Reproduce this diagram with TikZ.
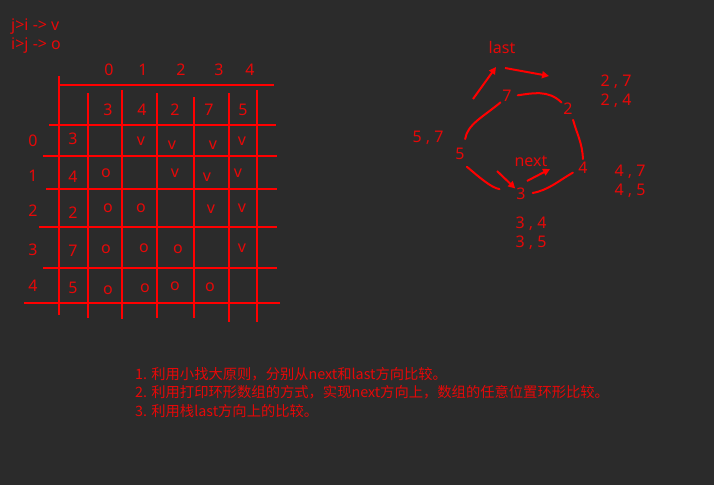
\documentclass[tikz,border=0pt]{standalone}
\usepackage{fontspec}
\setmainfont{Noto Sans}
\newfontfamily\cjk{Noto Sans CJK SC}
\usetikzlibrary{arrows.meta}
\definecolor{bgc}{RGB}{43,43,43}
\definecolor{pen}{RGB}{255,0,0}
\definecolor{ink}{RGB}{230,8,8}

\begin{document}
\begin{tikzpicture}[
		x=1pt, y=-1pt,
		lbl/.style={text=ink, font=\fontsize{16}{19}\selectfont, inner sep=1pt},
		grid/.style={pen, line width=2pt},
		curve/.style={pen, line width=2pt, line cap=round},
		arr/.style={pen, line width=2pt, -{Triangle[length=7pt, width=7pt]}},
	]
		\fill[bgc] (0,0) rectangle (714,485);
		\useasboundingbox (0,0) rectangle (714,485);
		% legend
		\node[lbl, anchor=west] (ruleA) at (10,27) {j>i -> v};
		\node[lbl, anchor=west] (ruleB) at (10,46) {i>j -> o};
		% table
		\foreach \y/\a/\b in {85/59/274, 125/49/276, 156/43/277, 189/46/277, 227/39/277, 268/43/277, 303/24/280}
			\draw[grid] (\a,\y) -- (\b,\y);
		\foreach \x/\a/\b in {59/76/315, 88/93/318, 122/90/319, 157/93/318, 194/97/318, 229/93/322, 257/90/322}
			\draw[grid] (\x,\a) -- (\x,\b);
		\foreach \x/\t [count=\i from 0] in {109/0, 143/1, 181/2, 219/3, 250/4}
			\node[lbl] (col\i) at (\x,70) {\t};
		\foreach \x/\t [count=\i from 0] in {108/3, 142/4, 175/2, 209/7, 243/5}
			\node[lbl] (top\i) at (\x,110) {\t};
		\foreach \y/\t [count=\i from 0] in {141/0, 176/1, 211/2, 250/3, 286/4}
			\node[lbl] (row\i) at (33,\y) {\t};
		\foreach \y/\t [count=\i from 0] in {139/3, 177/4, 213/2, 251/7, 288/5}
			\node[lbl] (left\i) at (73,\y) {\t};
		\foreach \x/\y/\t [count=\i] in {141/141/v, 172/145/v, 213/145/v, 242/141/v,
				106/173/o, 175/173/v, 207/177/v, 238/173/v,
				108/208/o, 141/208/o, 211/209/v, 242/208/v,
				106/249/o, 144/248/o, 178/249/o, 242/248/v,
				108/290/o, 145/288/o, 175/286/o, 210/287/o}
			\node[lbl] (cell\i) at (\x,\y) {\t};
		% ring
		\node[lbl] (n7) at (507,96) {7};
		\node[lbl] (n2) at (568,109) {2};
		\node[lbl] (n4) at (583,168) {4};
		\node[lbl] (n3) at (521,194) {3};
		\node[lbl] (n5) at (460,154) {5};
		\node[lbl] (last) at (502,47) {last};
		\node[lbl] (next) at (531,161) {next};
		\draw[curve, shorten <=5pt, shorten >=1pt] (n7.east) to[out=8, in=135] (n2.135);
		\draw[curve, shorten <=4pt, shorten >=2pt] (n2.-60) to[out=-75, in=92] (n4.north);
		\draw[curve, shorten <=8pt, shorten >=1pt] (n5.60) to[out=82, in=220] (n7.225);
		\draw[curve, shorten <=9pt, shorten >=16pt] (n5.south) to[out=-40, in=170] (n3.160);
		\draw[curve, shorten <=6pt, shorten >=5pt] (n3.east) to[out=10, in=210] (n4.200);
		\coordinate (lastA) at (473,99);
		\coordinate (lastB) at (496,67);
		\coordinate (lastC) at (505,68);
		\coordinate (lastD) at (549,76);
		\coordinate (nextA) at (497,171);
		\coordinate (nextB) at (527,181);
		\coordinate (nextC) at (550,169);
		\draw[arr] (lastA) -- (lastB);
		\draw[arr] (lastC) -- (lastD);
		\draw[arr] (nextA) -- (n3);
		\draw[arr] (nextB) -- (nextC);
		\node[lbl, align=left] (p2) at (616,91) {2 , 7\\2 , 4};
		\node[lbl] (p5) at (428,138) {5 , 7};
		\node[lbl, align=left] (p4) at (630,181) {4 , 7\\4 , 5};
		\node[lbl, align=left] (p3) at (531,233) {3 , 4\\3 , 5};
		% notes
		\node[lbl, anchor=north west, align=left, font=\cjk\fontsize{14.3}{18.5}\selectfont] (notes) at (134,366)
			{1. 利用小找大原则，分别从next和last方向比较。\\
			 2. 利用打印环形数组的方式，实现next方向上，数组的任意位置环形比较。\\
			 3. 利用栈last方向上的比较。};
	\end{tikzpicture}
\end{document}
